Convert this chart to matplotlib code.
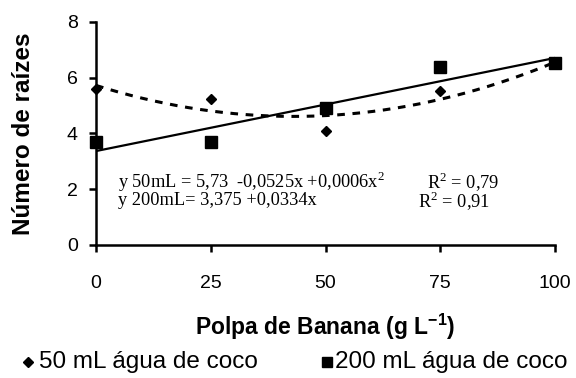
import numpy as np
import matplotlib
matplotlib.use('Agg')
import matplotlib.pyplot as plt

# doses de polpa de banana (g/L)
polpa = [0, 25, 50, 75, 100]
raizes_50 = [5.60, 5.23, 4.10, 5.52, 6.50]
raizes_200 = [3.69, 3.69, 4.91, 6.38, 6.52]

eq_50 = "y 50mL = 5,73  -0,0525x +0,0006x$^{2}$"
eq_200 = "y 200mL= 3,375 +0,0334x"
r2_50 = "R$^{2}$ = 0,79"
r2_200 = "R$^{2}$ = 0,91"
series_names = ['50 mL água de coco', '200 mL água de coco']

plt.rcParams['font.family'] = ['Liberation Sans', 'DejaVu Sans']
plt.rcParams['mathtext.fontset'] = 'custom'
plt.rcParams['mathtext.rm'] = 'Liberation Serif'
plt.rcParams['mathtext.bf'] = 'Liberation Sans:bold'

fig = plt.figure(figsize=(5.76, 3.78), dpi=100)
ax = fig.add_axes([0.1667, 0.352, 0.797, 0.590])

# curvas de tendencia ajustadas aos pontos
xs = np.linspace(0, 100, 200)
c50 = np.polyfit(polpa, raizes_50, 2)
c200 = np.polyfit(polpa, raizes_200, 1)
ax.plot(xs, np.polyval(c50, xs), color='black', lw=2.2, ls=(0, (2.5, 2.5)), zorder=2)
ax.plot(xs, np.polyval(c200, xs), color='black', lw=1.6, zorder=2)

ax.plot(polpa, raizes_50, 'D', color='black', ms=5.5, clip_on=False, zorder=3)
ax.plot(polpa, raizes_200, 's', color='black', ms=8, clip_on=False, zorder=3)

ax.set_xlim(0, 100)
ax.set_ylim(0, 8)
ax.set_xticks([0, 25, 50, 75, 100])
ax.set_yticks([0, 2, 4, 6, 8])
for s in ['top', 'right']:
    ax.spines[s].set_visible(False)
for s in ['left', 'bottom']:
    ax.spines[s].set_linewidth(1.8)
ax.tick_params(axis='both', direction='out', length=5, width=1.8, labelsize=14)
ax.tick_params(axis='x', pad=17)
ax.tick_params(axis='y', pad=8)

ax.set_xlabel('Polpa de Banana (g L$^{\\mathbf{-1}}$)', fontsize=16.5, fontweight='bold', labelpad=14)
ax.set_ylabel('Número de raízes', fontsize=17.5, fontweight='bold')
ax.yaxis.set_label_coords(-0.132, 0.5)

serif = ['Liberation Serif', 'DejaVu Serif']
ax.text(4.8, 2.27, eq_50, family=serif, fontsize=13.2, va='center')
ax.text(4.8, 1.6, eq_200, family=serif, fontsize=13.2, va='center')
ax.text(72.1, 2.27, r2_50, family=serif, fontsize=13.2, va='center')
ax.text(70.2, 1.6, r2_200, family=serif, fontsize=13.2, va='center')

# legenda abaixo do grafico
leg_y = 0.042
fig.lines.append(plt.Line2D([0.049], [leg_y], marker='D', color='black', ls='none', ms=5,
                            transform=fig.transFigure))
fig.text(0.068, leg_y, series_names[0], fontsize=17.5, va='center', ha='left')
fig.lines.append(plt.Line2D([0.568], [leg_y], marker='s', color='black', ls='none', ms=7,
                            transform=fig.transFigure))
fig.text(0.582, leg_y, series_names[1], fontsize=17.5, va='center', ha='left')

fig.savefig('out.png', dpi=100)
